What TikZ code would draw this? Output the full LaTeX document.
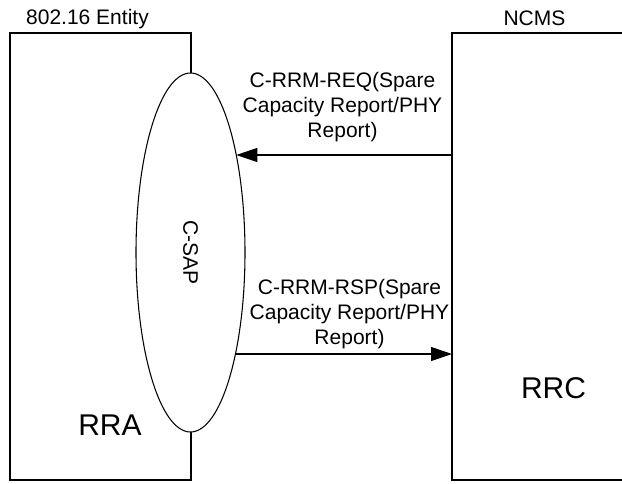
\documentclass[tikz,border=0pt]{standalone}
\usepackage{fontspec}
\setmainfont{Liberation Sans}
\usetikzlibrary{arrows.meta,shapes.geometric}
\begin{document}
\begin{tikzpicture}[x=0.75pt,y=-0.75pt,
  box/.style={draw, line width=0.8pt, inner sep=0pt, outer sep=0pt, anchor=north west, minimum height=335.25pt},
  lbl/.style={font=\fontsize{15.75}{18.75}\selectfont, inner sep=0pt},
  big/.style={font=\fontsize{22.5}{27}\selectfont, inner sep=0pt, anchor=base},
  msg/.style={line width=0.8pt, -{Triangle[length=15.75pt,width=10.5pt]}}]
\useasboundingbox (0,0) rectangle (622,483);
\clip (0,0) rectangle (622,483);
\node[box, minimum width=135.75pt] (entity) at (10,33) {};
\node[box, minimum width=141pt] (ncms) at (452,33) {};
\node[draw, fill=white, ellipse, line width=0.8pt, inner sep=0pt, outer sep=0pt,
      minimum width=81.75pt, minimum height=269.25pt] (csap) at (190.5,252.5) {};
\node[lbl, rotate=-90] (csaplbl) at (csap.center) {C-SAP};
\node[lbl, anchor=base] (entitylbl) at (87.5,24) {802.16 Entity};
\node[lbl, anchor=base] (ncmslbl) at (534.5,25) {NCMS};
\node[big] (rra) at (110,435) {RRA};
\node[big] (rrc) at (553.5,398) {RRC};
\node[lbl, align=center, anchor=north] (req) at (342.5,72.5)
  {C-RRM-REQ(Spare\\Capacity Report/PHY\\Report)};
\node[lbl, align=center, anchor=north] (rsp) at (349.5,279.5)
  {C-RRM-RSP(Spare\\Capacity Report/PHY\\Report)};
\coordinate (reqend) at (236.3,155);
\coordinate (rspstart) at (235.5,354);
\draw[msg] (ncms.west |- reqend) -- (reqend);
\draw[msg] (rspstart) -- (ncms.west |- rspstart);
\end{tikzpicture}
\end{document}
